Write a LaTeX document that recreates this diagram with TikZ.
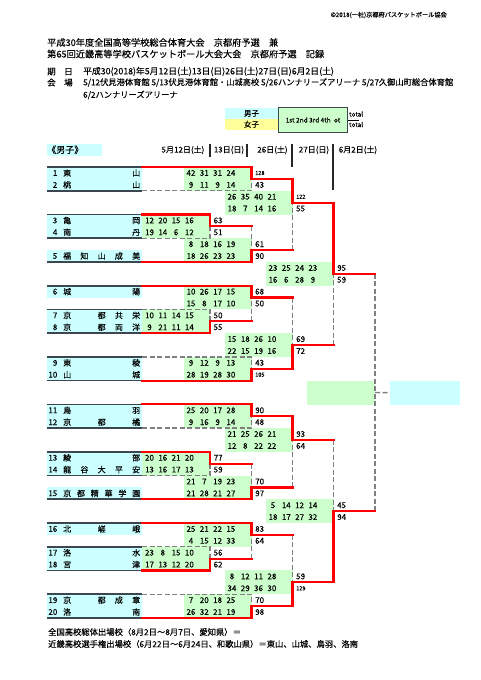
\documentclass[tikz,border=0pt]{standalone}
\usepackage{fontspec}
\setmainfont{Noto Sans CJK JP}[FakeBold=0.2]
\usetikzlibrary{positioning}
\definecolor{teamcyan}{HTML}{CCFFFF}
\definecolor{scoregreen}{HTML}{CCFFCC}
\definecolor{girlyellow}{HTML}{FFFF99}
\definecolor{winred}{HTML}{FF0000}
\definecolor{losegrey}{HTML}{808080}
\definecolor{rulegrey}{HTML}{3C464E}
\newcommand{\fs}[1]{\fontsize{#1}{#1}\selectfont}
\newcommand{\sm}[1]{{\fs{5.6}#1}}

\begin{document}
\begin{tikzpicture}[
  x=1pt, y=-1pt,
  every node/.style={inner sep=0pt, font=\fs{8}},
  hdr/.style={anchor=west},
  winline/.style={draw=winred, line width=2.2pt, line cap=rect},
  loseline/.style={draw=losegrey, line width=1.4pt, dash pattern=on 5pt off 2.5pt},
  teamrule/.style={draw=rulegrey, line width=1.7pt},
  daybar/.style={draw=black!85, line width=1.1pt},
  score/.style={font=\fs{8}},
  total/.style={anchor=west, font=\fs{8}}
]
\useasboundingbox (0,0) rectangle (481,680);
\fill[white] (0,0) rectangle (481,680);

% title block
\node[anchor=east, font=\fs{6.2}] (copyright) at (447,15) {©2018(一社)京都府バスケットボール協会};
\node[hdr, font=\fs{9.2}] (title1) at (47,42.5) {平成30年度全国高等学校総合体育大会　京都府予選　兼};
\node[hdr, font=\fs{9.2}] (title2) at (47,54) {第65回近畿高等学校バスケットボール大会大会　京都府予選　記録};
\node[hdr, font=\fs{8.5}] (datelbl) at (47,71.5) {期　日};
\node[hdr, font=\fs{8.8}] (dates) at (83,71.5) {平成30(2018)年5月12日(土)13日(日)26日(土)27日(日)6月2日(土)};
\node[hdr, font=\fs{8.5}] (venuelbl) at (47,82.5) {会　場};
\node[hdr, font=\fs{8.25}] (venue1) at (83,82.5) {5/12伏見港体育館 5/13伏見港体育館・山城高校 5/26ハンナリーズアリーナ 5/27久御山町総合体育館};
\node[hdr, font=\fs{8.25}] (venue2) at (83,95) {6/2ハンナリーズアリーナ};

% legend
\fill[teamcyan] (225,108) rectangle (278,119);
\fill[girlyellow] (225,119) rectangle (278,129.5);
\node[font=\fs{7.5}] (boys) at (251.5,113.5) {男子};
\node[font=\fs{7.5}] (girls) at (251.5,124.3) {女子};
\node[draw=rulegrey, line width=0.9pt, fill=scoregreen, anchor=north west,
      minimum width=69pt, minimum height=25pt, font=\fs{6.5}] (quarters) at (278,107) {1st 2nd 3rd 4th\enspace ot};
\node[anchor=west, font=\fs{6.5}] (totboys) at (349,114) {total};
\node[anchor=west, font=\fs{6.5}] (totgirls) at (349,124.5) {total};
\draw[line width=0.6pt] (quarters.east) -- ++(11,0);

% round dates
\fill[teamcyan] (47,144) rectangle (102,155.5);
\node[hdr, font=\fs{9}] (boyshead) at (47,149.7) {《男子》};
\node (day1) at (183,150) {5月12日(土)};
\node (day2) at (229,150) {13日(日)};
\node (day3) at (272.5,150) {26日(土)};
\node (day4) at (314,150) {27日(日)};
\node (day5) at (358,150) {6月2日(土)};
\draw[daybar] (210,143.5) -- (210,157);
\draw[daybar] (247,143.5) -- (247,157);
\draw[daybar] (292,143.5) -- (292,167);
\draw[daybar] (333,143.5) -- (333,190);

\begin{scope}[y=-11.865pt, yshift=-173pt]
% score areas
\foreach \X/\r in {210/4, 210/12, 210/24, 210/32,
                   251.5/0, 251.5/6, 251.5/10, 251.5/16, 251.5/20, 251.5/26, 251.5/30, 251.5/36,
                   292.5/2, 292.5/14, 292.5/22, 292.5/34, 333.5/8, 333.5/28}
  \fill[scoregreen] (\X-68,\r-0.5) rectangle (\X,\r+1.5);
\node[fill=scoregreen, anchor=north west, minimum width=68pt, minimum height=23.73pt] (finalscore) at (307,17.5) {};
\node[fill=teamcyan, anchor=north west, minimum width=70pt, minimum height=23.73pt] (champion) at (390,17.5) {};

% teams
\foreach \n/\r/\ye/\X/\yo/\s/\name in {
  1/0/-0.5/251.5/0.5/winline/東\hfill 山,
  2/1/1.5/251.5/0.5/loseline/桃\hfill 山,
  3/4/3.5/210/4.5/winline/亀\hfill 岡,
  4/5/5.5/210/4.5/loseline/南\hfill 丹,
  5/7/7.5/251.5/6.5/winline/福\hfill 知\hfill 山\hfill 成\hfill 美,
  6/10/9.5/251.5/10.5/winline/城\hfill 陽,
  7/12/11.5/210/12.5/loseline/京\hfill　\hfill 都\hfill 共\hfill 栄,
  8/13/13.5/210/12.5/winline/京\hfill　\hfill 都\hfill 両\hfill 洋,
  9/16/15.5/251.5/16.5/loseline/東\hfill 稜,
  10/17/17.5/251.5/16.5/winline/山\hfill 城,
  11/20/19.5/251.5/20.5/winline/鳥\hfill 羽,
  12/21/21.5/251.5/20.5/loseline/京\hfill 都\hfill 橘,
  13/24/23.5/210/24.5/winline/綾\hfill 部,
  14/25/25.5/210/24.5/loseline/龍\hfill 谷\hfill 大\hfill 平\hfill 安,
  15/27/27.5/251.5/26.5/winline/京\hfill 都\hfill 精\hfill 華\hfill 学\hfill 園,
  16/30/29.5/251.5/30.5/winline/北\hfill 嵯\hfill 峨,
  17/32/31.5/210/32.5/loseline/洛\hfill 水,
  18/33/33.5/210/32.5/winline/宮\hfill 津,
  19/36/35.5/251.5/36.5/loseline/京\hfill　\hfill 都\hfill 成\hfill 章,
  20/37/37.5/251.5/36.5/winline/洛\hfill 南}
{
  \fill[teamcyan] (47,\r-0.5) rectangle (142,\r+0.5);
  \node[anchor=east] (no\n) at (57.5,\r) {\n};
  \node[anchor=west] (team\n) at (63,\r) {\hbox to 77pt{\name}};
  \draw[teamrule] (47,\ye) -- (142,\ye);
  \draw[\s] (142,\ye) -- (\X,\ye) -- (\X,\yo);
}

% later rounds: losers
\foreach \xs/\yi/\X/\yo in {210/4.5/251.5/6.5, 210/12.5/251.5/10.5, 210/24.5/251.5/26.5, 210/32.5/251.5/30.5,
                            251.5/6.5/292.5/2.5, 251.5/10.5/292.5/14.5, 251.5/26.5/292.5/22.5, 251.5/30.5/292.5/34.5,
                            292.5/14.5/333.5/8.5, 292.5/22.5/333.5/28.5, 333.5/8.5/375/18.5, 333.5/28.5/375/18.5}
{
  \draw[loseline] (\X,\yi) -- (\X,\yo);
  \draw[winline] (\xs,\yi) -- (\X,\yi);
}
% later rounds: winners
\foreach \xs/\yi/\X/\yo in {251.5/0.5/292.5/2.5, 251.5/16.5/292.5/14.5, 251.5/20.5/292.5/22.5, 251.5/36.5/292.5/34.5,
                            292.5/2.5/333.5/8.5, 292.5/34.5/333.5/28.5}
  \draw[winline] (\xs,\yi) -- (\X,\yi) -- (\X,\yo);
\draw[loseline] (375,18.5) -- (champion.west);

% quarter scores and totals
\foreach \X/\r/\a/\b/\c/\d/\t in {
  210/4/12/20/15/16/63, 210/5/19/14/6/12/51, 210/12/10/11/14/15/50, 210/13/9/21/11/14/55,
  210/24/20/16/21/20/77, 210/25/13/16/17/13/59, 210/32/23/8/15/10/56, 210/33/17/13/12/20/62,
  251.5/0/42/31/31/24/\sm{128}, 251.5/1/9/11/9/14/43, 251.5/6/8/18/16/19/61, 251.5/7/18/26/23/23/90,
  251.5/10/10/26/17/15/68, 251.5/11/15/8/17/10/50, 251.5/16/9/12/9/13/43, 251.5/17/28/19/28/30/\sm{105},
  251.5/20/25/20/17/28/90, 251.5/21/9/16/9/14/48, 251.5/26/21/7/19/23/70, 251.5/27/21/28/21/27/97,
  251.5/30/25/21/22/15/83, 251.5/31/4/15/12/33/64, 251.5/36/7/20/18/25/70, 251.5/37/26/32/21/19/98,
  292.5/2/26/35/40/21/\sm{122}, 292.5/3/18/7/14/16/55, 292.5/14/15/18/26/10/69, 292.5/15/22/15/19/16/72,
  292.5/22/21/25/26/21/93, 292.5/23/12/8/22/22/64, 292.5/34/8/12/11/28/59, 292.5/35/34/29/36/30/\sm{129},
  333.5/8/23/25/24/23/95, 333.5/9/16/6/28/9/59, 333.5/28/5/14/12/14/45, 333.5/29/18/17/27/32/94}
{
  \foreach \v [count=\j from 0] in {\a,\b,\c,\d}
    \node[score] (sc-\r-\j) at (\X-60.5+13.3*\j,\r) {\v};
  \node[total] (tot-\r) at (\X+3.5,\r) {\t};
}
\end{scope}

% footnote
\node[hdr, font=\fs{8.3}] (note1) at (48,632) {全国高校総体出場校（8月2日～8月7日、愛知県）＝};
\node[hdr, font=\fs{8.3}] (note2) at (48,644) {近畿高校選手権出場校（6月22日～6月24日、和歌山県）＝東山、山城、鳥羽、洛南};
\end{tikzpicture}
\end{document}
